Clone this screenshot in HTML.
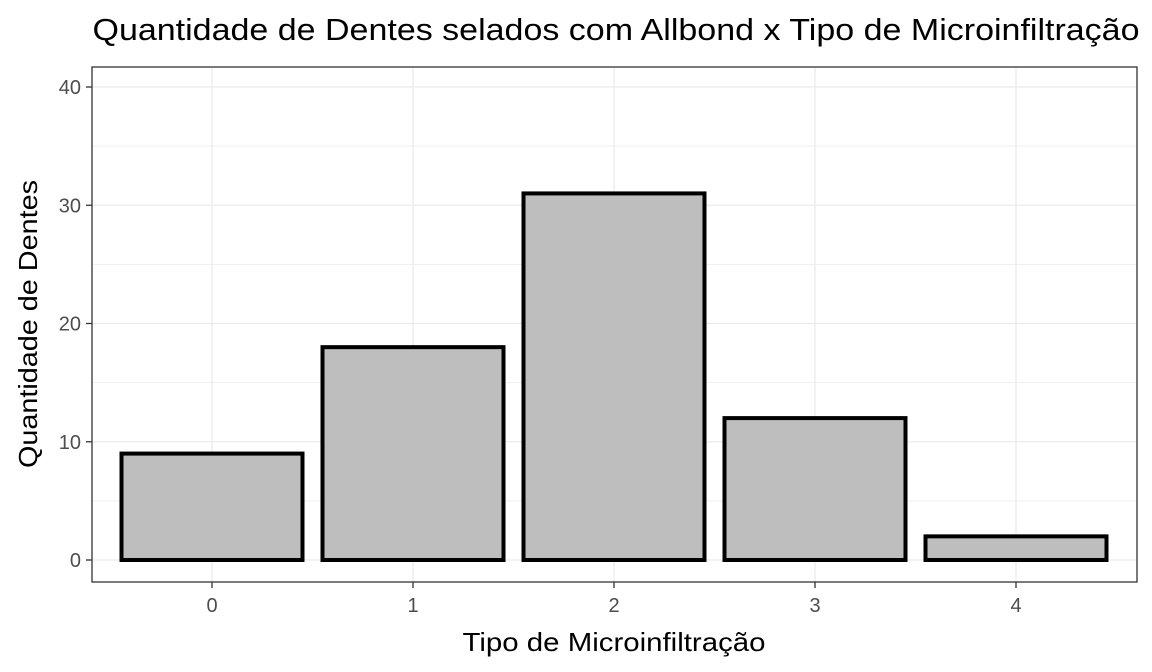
<!DOCTYPE html>
<html><head><meta charset="utf-8"><style>
body{margin:0;background:#fff;}
svg{display:block;font-family:"Liberation Sans",sans-serif;}
</style></head><body>
<svg id="chart" width="1152" height="672">
<text x="616" y="40" text-anchor="middle" font-size="31" textLength="1047" lengthAdjust="spacingAndGlyphs" fill="#000">Quantidade de Dentes selados com Allbond x Tipo de Microinfiltração</text>
<g id="grid"></g>
<g id="bars"></g>
<rect x="92" y="67" width="1045" height="515" fill="none" stroke="#333" stroke-width="1.3"/>
<g id="ticks"></g>
<text x="614" y="651" text-anchor="middle" font-size="26" textLength="303" lengthAdjust="spacingAndGlyphs" fill="#000">Tipo de Microinfiltração</text>
<text transform="translate(37,324) rotate(-90)" text-anchor="middle" font-size="26" textLength="288" lengthAdjust="spacingAndGlyphs" fill="#000">Quantidade de Dentes</text>
</svg>
<script>
const categories=["0","1","2","3","4"];
const values=[9,18,31,12,2];
const yTicks=[0,10,20,30,40];
const NS="http://www.w3.org/2000/svg";
function x(i){return 212+i*201;}
function y(v){return 560-v*11.825;}
const bw=181;
const grid=document.getElementById('grid'),bars=document.getElementById('bars'),ticks=document.getElementById('ticks');
function mk(tag,attrs,parent){const e=document.createElementNS(NS,tag);for(const k in attrs)e.setAttribute(k,attrs[k]);parent.appendChild(e);return e;}
for(let k=0;k<yTicks.length;k++){
  const v=yTicks[k];
  const l=mk('line',{x1:92,x2:1137,y1:y(v),y2:y(v),stroke:'#ebebeb','stroke-width':1.3},grid);
  
  
  if(k<yTicks.length-1){
    const m=mk('line',{x1:92,x2:1137,y1:y(v+5),y2:y(v+5),stroke:'#ebebeb','stroke-width':0.7},grid);
    
    
  }
  const t=mk('line',{x1:86,x2:92,y1:y(v),y2:y(v),stroke:'#333','stroke-width':1.3},ticks);
  
  
  const tx=mk('text',{x:81,y:y(v)+7,'text-anchor':'end','font-size':20,fill:'#4d4d4d'},ticks);
  tx.textContent=v;
  
  
}
categories.forEach((c,i)=>{
  const g=mk('line',{x1:x(i),x2:x(i),y1:67,y2:582,stroke:'#ebebeb','stroke-width':1.3},grid);
  
  
  const r=mk('rect',{x:x(i)-bw/2,y:y(values[i]),width:bw,height:y(0)-y(values[i]),fill:'#bebebe',stroke:'#000','stroke-width':4},bars);
  
  
  const t=mk('line',{x1:x(i),x2:x(i),y1:582,y2:588,stroke:'#333','stroke-width':1.3},ticks);
  
  
  const tx=mk('text',{x:x(i),y:612,'text-anchor':'middle','font-size':20,fill:'#4d4d4d'},ticks);
  tx.textContent=c;
  
  
});
</script>
</body></html>
